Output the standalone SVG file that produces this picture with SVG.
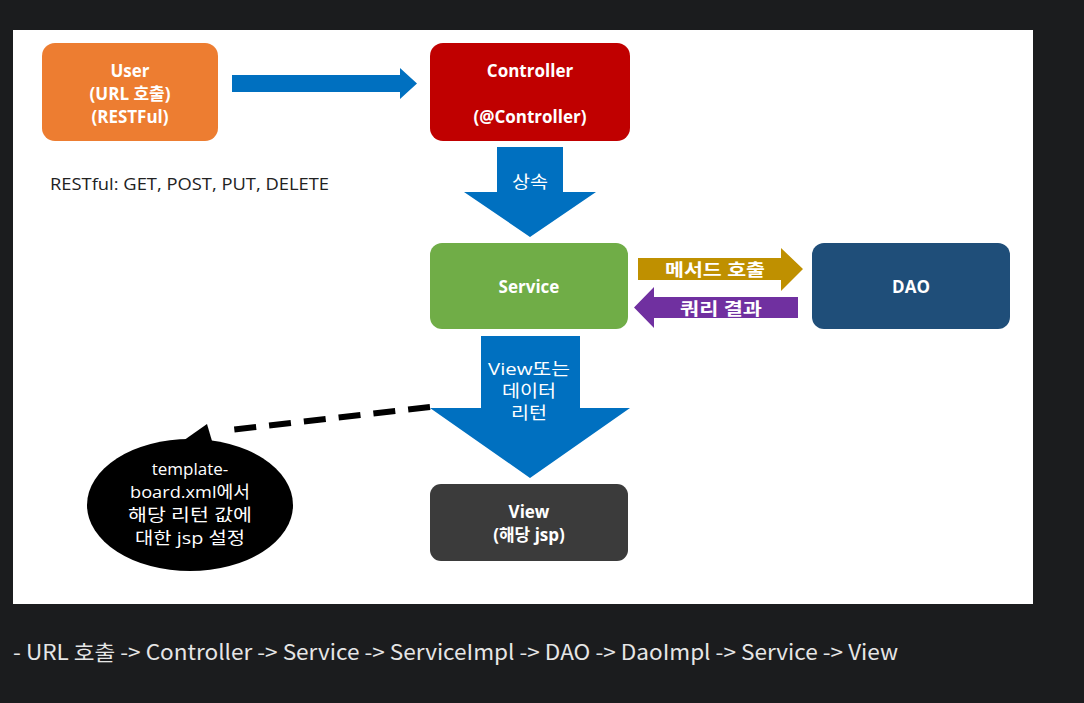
<svg xmlns="http://www.w3.org/2000/svg" width="1084" height="703" viewBox="0 0 1084 703">
<style>
.t{font-family:"Open Sans","Noto Sans CJK KR",sans-serif;fill:#fff;text-anchor:middle}
.b{font-weight:bold;font-size:17px}
.n{font-size:17px}
.m{font-size:17px}
</style>
<rect x="0" y="0" width="1084" height="703" fill="#1b1c1e"/>
<rect x="13" y="30" width="1020" height="574" fill="#fff"/>
<g id="connectors">
<path d="M232 75 H400 V68 L417 83.5 L400 99 V92 H232 Z" fill="#0070c0"/>
<path d="M497 147 H563 V192 H596 L530 237 L464 192 H497 Z" fill="#0070c0"/>
<path d="M638 258 H781 V248 L803 269 L781 291 V280 H638 Z" fill="#bf9000"/>
<path d="M798 297 H654 V287 L634 307.5 L654 328 V318 H798 Z" fill="#7030a0"/>
<path d="M481 336 H580 V408 H630 L530 478 L430 408 H481 Z" fill="#0070c0"/>
<line x1="430" y1="407" x2="222" y2="431" stroke="#000" stroke-width="6" stroke-dasharray="22,13"/>
<text class="t m" x="530" y="188" textLength="36" lengthAdjust="spacingAndGlyphs">상속</text>
<text class="t" x="715" y="276" font-size="17" font-weight="bold" textLength="100" lengthAdjust="spacingAndGlyphs">메서드 호출</text>
<text class="t" x="721" y="315" font-size="17" font-weight="bold" textLength="82" lengthAdjust="spacingAndGlyphs">쿼리 결과</text>
<text class="t m" x="529" y="375" textLength="82" lengthAdjust="spacingAndGlyphs">View또는</text>
<text class="t m" x="529" y="397" textLength="54" lengthAdjust="spacingAndGlyphs">데이터</text>
<text class="t m" x="529" y="419" textLength="36" lengthAdjust="spacingAndGlyphs">리턴</text>
</g>
<g id="user">
<rect x="42" y="43" width="176" height="98" rx="13" fill="#ed7d31"/>
<text class="t b" x="130" y="77">User</text>
<text class="t b" x="130" y="100">(URL 호출)</text>
<text class="t b" x="130" y="123">(RESTFul)</text>
</g>
<g id="controller">
<rect x="430" y="43" width="200" height="98" rx="13" fill="#c00000"/>
<text class="t b" x="530" y="77">Controller</text>
<text class="t b" x="530" y="123">(@Controller)</text>
</g>
<g id="restful-note">
<text x="50" y="190" font-family="Open Sans,Noto Sans CJK KR,sans-serif" font-size="16.5" fill="#222" textLength="279" lengthAdjust="spacingAndGlyphs">RESTful: GET, POST, PUT, DELETE</text>
</g>
<g id="service">
<rect x="430" y="243" width="198" height="86" rx="12" fill="#70ad47"/>
<text class="t b" x="529" y="293">Service</text>
</g>
<g id="dao">
<rect x="812" y="243" width="198" height="86" rx="12" fill="#1f4e79"/>
<text class="t b" x="911" y="293">DAO</text>
</g>
<g id="view">
<rect x="430" y="484" width="198" height="77" rx="11" fill="#3b3b3b"/>
<text class="t b" x="529" y="518">View</text>
<text class="t b" x="529" y="541">(해당 jsp)</text>
</g>
<g id="bubble">
<path d="M180 443 L207 424 L212 441 Z" fill="#000"/>
<ellipse cx="190" cy="505" rx="103" ry="66" fill="#000"/>
<text class="t n" x="190" y="475">template-</text>
<text class="t n" x="190" y="498" textLength="120" lengthAdjust="spacingAndGlyphs">board.xml에서</text>
<text class="t n" x="190" y="521" textLength="124" lengthAdjust="spacingAndGlyphs">해당 리턴 값에</text>
<text class="t n" x="190" y="544" textLength="110" lengthAdjust="spacingAndGlyphs">대한 jsp 설정</text>
</g>
<text x="13" y="660" font-family="Noto Sans CJK KR,sans-serif" font-size="21" fill="#e6e6e6" textLength="885" lengthAdjust="spacingAndGlyphs">- URL 호출 -&gt; Controller -&gt; Service -&gt; ServiceImpl -&gt; DAO -&gt; DaoImpl -&gt; Service -&gt; View</text>
</svg>
